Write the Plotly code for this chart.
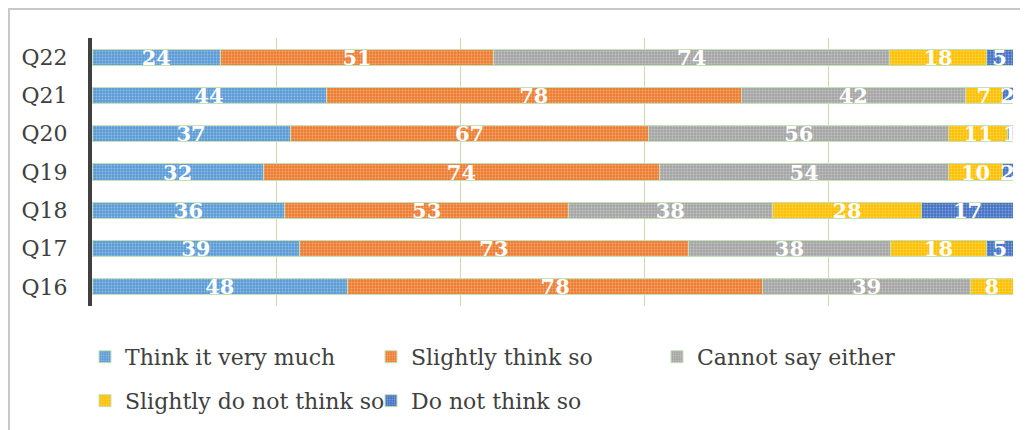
import plotly.graph_objects as go

questions = ["Q16", "Q17", "Q18", "Q19", "Q20", "Q21", "Q22"]
series_names = ["Think it very much", "Slightly think so", "Cannot say either",
                "Slightly do not think so", "Do not think so"]
think_very_much = [48, 39, 36, 32, 37, 44, 24]
slightly_think = [78, 73, 53, 74, 67, 78, 51]
cannot_say = [39, 38, 38, 54, 56, 42, 74]
slightly_not = [8, 18, 28, 10, 11, 7, 18]
do_not_think = [0, 5, 17, 2, 1, 2, 5]
series_values = [think_very_much, slightly_think, cannot_say, slightly_not, do_not_think]
colors = ["#5B9BD5", "#ED7D31", "#A5A5A5", "#FFC000", "#4472C4"]
legend_ids = ["legend", "legend", "legend", "legend2", "legend2"]

FONT = "DejaVu Serif"
L, R, T, B = 84, 23, 30, 132
PH = 430 - T - B
PW = 1028 - L - R

fig = go.Figure()
for name, vals, col, lg in zip(series_names, series_values, colors, legend_ids):
    fig.add_trace(go.Bar(
        y=questions, x=vals, name=name, orientation="h",
        marker=dict(color=col, line=dict(color="#c5e0b4", width=1),
                    pattern=dict(shape=".", fgcolor="#ffffff", fgopacity=0.35,
                                 size=3, solidity=0.3)),
        text=[str(v) for v in vals], textposition="inside",
        insidetextanchor="middle", constraintext="none", textangle=0,
        textfont=dict(family=FONT, size=21, color="white", weight="bold"),
        cliponaxis=True, legend=lg, width=0.42,
    ))

leg_font = dict(family=FONT, size=22, color="#404040")
fig.update_layout(
    barmode="stack", barnorm="percent",
    width=1028, height=430,
    margin=dict(l=L, r=R, t=T, b=B),
    paper_bgcolor="white", plot_bgcolor="white",
    font=dict(family=FONT, color="#404040", size=21),
    xaxis=dict(range=[0, 100], dtick=20, showticklabels=False,
               showgrid=True, gridcolor="#c5e0b4", gridwidth=1,
               zeroline=False, showline=False),
    yaxis=dict(showline=True, linecolor="#404040", linewidth=4,
               ticks="", ticklabelstandoff=16,
               tickfont=dict(family=FONT, size=22, color="#404040")),
    legend=dict(orientation="h", x=-0.0076, y=-0.190, xanchor="left", yanchor="middle",
                traceorder="normal", entrywidth=241, entrywidthmode="pixels",
                font=leg_font, bgcolor="rgba(0,0,0,0)"),
    legend2=dict(orientation="h", x=-0.0076, y=-0.354, xanchor="left", yanchor="middle",
                 traceorder="normal", entrywidth=241, entrywidthmode="pixels",
                 font=leg_font, bgcolor="rgba(0,0,0,0)"),
    showlegend=True,
)

# outer chart frame
fig.add_shape(type="rect", xref="paper", yref="paper",
              x0=(1 - L) / PW, x1=(1045 - L) / PW,
              y0=-(445 - (T + PH)) / PH, y1=1 + (T - 1) / PH,
              line=dict(color="#c8c8c8", width=2), layer="below")

fig.write_html("out.html")
